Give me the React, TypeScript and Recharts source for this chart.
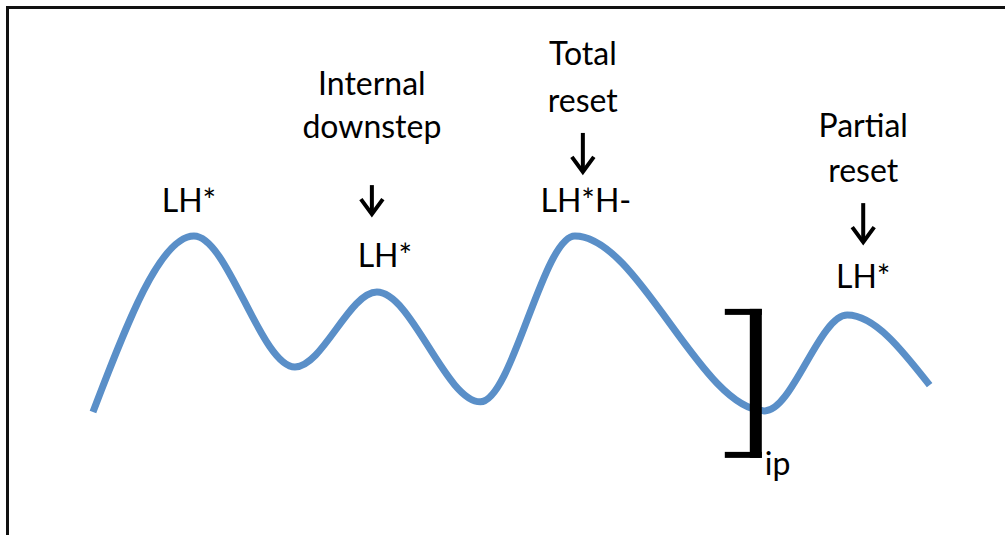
import React from 'react';
import { LineChart, Line, XAxis, YAxis, ReferenceDot } from 'recharts';

// pitch contour: time (0-100) and relative pitch (0-100)
const timeX = [9.25, 19.3, 29.35, 37.5, 47.8, 57.2, 76.1, 84.3, 92.5];
const pitchY = [23.0, 55.9, 31.4, 45.4, 24.9, 55.9, 23.2, 41.1, 28.0];

// annotated peaks
const peakIndex = [1, 3, 5, 7];
const peakHeading = [[], ['Internal', 'downstep'], ['Total', 'reset'], ['Partial', 'reset']];
const peakAccent = ['LH*', 'LH*', 'LH*H-', 'LH*'];

// phrase boundary bracket
const boundaryIndex = 6;
const boundaryLabel = 'ip';

const data = timeX.map((t, i) => ({ t, pitch: pitchY[i] }));

const FONT = 'Lato, "Open Sans", sans-serif';
const FS = 32;

// offsets from the peak, in px
const layout = [
  { head: 0, accentDx: -5, accentDy: -24, arrowTop: 0, arrowBot: 0, line2: 0, line1: 0 },
  { head: -5, accentDx: 8, accentDy: -25, arrowTop: -107, arrowBot: -77, line2: -154, line1: -197 },
  { head: 8, accentDx: 11, accentDy: -24, arrowTop: -103, arrowBot: -63, line2: -124, line1: -171 },
  { head: 16, accentDx: 16, accentDy: -27, arrowTop: -112, arrowBot: -72, line2: -133, line1: -178 },
];

const Arrow = ({ x, y1, y2 }: { x: number; y1: number; y2: number }) => (
  <g stroke="#000" strokeWidth={4} fill="none">
    <line x1={x} y1={y1} x2={x} y2={y2 - 2} />
    <polyline points={`${x - 11},${y2 - 16} ${x},${y2 - 1} ${x + 11},${y2 - 16}`} strokeLinejoin="miter" />
  </g>
);

const makePeakShape = (k: number) => (props: any) => {
  const { cx, cy } = props;
  const l = layout[k];
  const heading = peakHeading[k];
  return (
    <g fontFamily={FONT} fontSize={FS} fill="#000">
      {heading.length > 0 && (
        <>
          <text x={cx + l.head} y={cy + l.line1} textAnchor="middle">{heading[0]}</text>
          <text x={cx + l.head} y={cy + l.line2} textAnchor="middle">{heading[1]}</text>
          <Arrow x={cx + l.head} y1={cy + l.arrowTop} y2={cy + l.arrowBot} />
        </>
      )}
      <text x={cx + l.accentDx} y={cy + l.accentDy} textAnchor="middle">{peakAccent[k]}</text>
    </g>
  );
};

const BoundaryShape = (props: any) => {
  const { cx, cy } = props;
  return (
    <g fill="#000">
      <rect x={cx - 15} y={cy - 102} width={12} height={149} />
      <rect x={cx - 40} y={cy - 102} width={37} height={6} />
      <rect x={cx - 40} y={cy + 41} width={37} height={6} />
      <text x={cx} y={cy + 64} fontFamily={FONT} fontSize={FS}>{boundaryLabel}</text>
    </g>
  );
};

export default function App() {
  return (
    <div style={{ position: 'absolute', left: 0, top: 0, width: 1005, height: 535, background: '#fff' }}>
      <div style={{ position: 'absolute', left: 6, top: 6, width: 999, height: 2.5, background: '#111' }} />
      <div style={{ position: 'absolute', left: 6, top: 6, width: 2.5, height: 529, background: '#111' }} />
      <LineChart width={1005} height={535} data={data} margin={{ top: 0, right: 0, bottom: 0, left: 0 }}>
        <XAxis dataKey="t" type="number" domain={[0, 100]} hide />
        <YAxis type="number" domain={[0, 100]} hide />
        <Line
          type="monotone"
          dataKey="pitch"
          stroke="#5A8FC8"
          strokeWidth={7}
          dot={false}
          activeDot={false}
          isAnimationActive={false}
        />
        {peakIndex.map((idx, k) => (
          <ReferenceDot key={k} x={timeX[idx]} y={pitchY[idx]} r={0} shape={makePeakShape(k)} ifOverflow="visible" />
        ))}
        <ReferenceDot x={timeX[boundaryIndex]} y={pitchY[boundaryIndex]} r={0} shape={BoundaryShape} ifOverflow="visible" />
      </LineChart>
    </div>
  );
}
